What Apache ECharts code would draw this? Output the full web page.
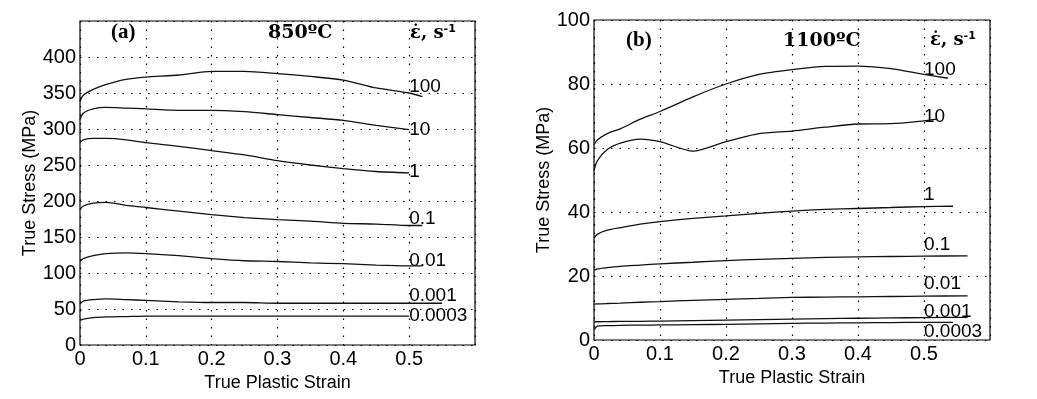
<!DOCTYPE html>
<html>
<head>
<meta charset="utf-8">
<script src="https://cdn.jsdelivr.net/npm/echarts@6/dist/echarts.min.js"></script>
<style>
html, body { margin: 0; background: #fff; }
#chart { width: 1037px; height: 399px; }
</style>
</head>
<body>
<div id="chart"></div>
<script>
var strain = [0, 0.005, 0.02, 0.04, 0.07, 0.1, 0.15, 0.2, 0.25, 0.3, 0.35, 0.4, 0.45, 0.5];
var rates = ['100', '10', '1', '0.1', '0.01', '0.001', '0.0003'];

// (a) 850 C
var a100 = [338, 347, 355, 362, 369, 372, 375, 380, 380, 377, 373, 368, 357, 350];
var a10 = [313, 322, 328, 330, 329, 328, 326, 326, 324, 320, 316, 312, 305, 299];
var a1 = [281, 285, 287, 287, 285, 281, 276, 270, 264, 256, 250, 245, 241, 239];
var a01 = [188, 193, 197, 198, 194, 191, 186, 181, 177, 174, 172, 169, 168, 166];
var a001 = [116, 120, 124, 127, 128, 127, 124, 120, 117, 116, 114, 113, 111, 110];
var a0001 = [57, 61, 63, 64, 63, 62, 60, 59, 59, 58, 58, 58, 58, 58];
var a00003 = [34, 36, 38, 39, 39.5, 40, 40, 40, 40, 40, 40, 40, 40, 40];
var aEndStrain = [0.52, 0.5, 0.5, 0.52, 0.52, 0.55, 0.5];
var aEndStress = [345, 299, 239, 166, 110, 58, 40];
var aLabelY = [358, 299, 240, 175, 117, 69, 40];

// (b) 1100 C
var b100 = [61, 62.5, 64.5, 66, 69, 71.4, 76, 80, 83, 84.5, 85.5, 85.6, 84.8, 83];
var b10 = [53, 56, 59.5, 61.5, 62.8, 62, 59, 62, 64.5, 65.3, 66.5, 67.5, 67.6, 68.5];
var b1 = [31.8, 33, 34.3, 35.1, 36.2, 37, 38, 38.8, 39.6, 40.3, 40.8, 41.1, 41.4, 41.7];
var b01 = [21.7, 22.2, 22.6, 23, 23.4, 23.8, 24.3, 24.8, 25.2, 25.5, 25.8, 26, 26.1, 26.2];
var b001 = [11.2, 11.3, 11.4, 11.5, 11.8, 12, 12.4, 12.7, 13, 13.3, 13.4, 13.5, 13.6, 13.7];
var b0001 = [5.7, 5.7, 5.75, 5.8, 5.85, 5.9, 6.05, 6.2, 6.35, 6.5, 6.65, 6.8, 6.9, 7.0];
var b00003 = [3.2, 4.3, 4.5, 4.6, 4.65, 4.7, 4.8, 4.9, 5.05, 5.2, 5.3, 5.35, 5.45, 5.5];
var bEndStrain = [0.536, 0.52, 0.544, 0.566, 0.566, 0.566, 0.544];
var bEndStress = [81.8, 69, 41.8, 26.3, 13.8, 7.1, 5.5];
var bLabelY = [84.6, 69.8, 45.3, 29.7, 17.7, 8.8, 2.6];

var labelStrain = 0.5;

var curvesA = [a100, a10, a1, a01, a001, a0001, a00003];
var curvesB = [b100, b10, b1, b01, b001, b0001, b00003];

var myChart = echarts.init(document.getElementById('chart'));

function buildLine(vals, endX, endY, idx) {
    var data = strain.map(function (s, i) { return [s, vals[i]]; });
    if (endX > strain[strain.length - 1]) data.push([endX, endY]);
    return {
        type: 'line',
        xAxisIndex: idx,
        yAxisIndex: idx,
        data: data,
        smooth: 0.25,
        symbol: 'none',
        silent: true,
        lineStyle: { color: '#111', width: 1.3 }
    };
}

function buildLabels(labelY, idx) {
    return {
        type: 'scatter',
        xAxisIndex: idx,
        yAxisIndex: idx,
        symbolSize: 0,
        silent: true,
        itemStyle: { color: '#000', opacity: 1 },
        data: rates.map(function (r, i) { return [labelStrain, labelY[i], r]; }),
        label: {
            show: true,
            position: 'right',
            distance: 0,
            color: '#000',
            fontFamily: 'Liberation Sans',
            fontSize: 19,
            formatter: function (p) { return p.data[2]; }
        }
    };
}

var series = [];
curvesA.forEach(function (c, i) { series.push(buildLine(c, aEndStrain[i], aEndStress[i], 0)); });
curvesB.forEach(function (c, i) { series.push(buildLine(c, bEndStrain[i], bEndStress[i], 1)); });
series.push(buildLabels(aLabelY, 0));
series.push(buildLabels(bLabelY, 1));

var dotted = { color: '#000', width: 1.2, type: [1.5, 7] };
var tickFont = { color: '#000', fontFamily: 'Liberation Sans', fontSize: 20 };
var nameFont = { color: '#000', fontFamily: 'Liberation Sans', fontSize: 18 };

function xAx(idx) {
    return {
        gridIndex: idx, type: 'value', min: 0, max: 0.6, interval: 0.1,
        name: 'True Plastic Strain', nameLocation: 'middle', nameGap: 28,
        nameTextStyle: nameFont,
        axisLine: { show: false }, axisTick: { show: false },
        splitLine: { show: true, lineStyle: dotted },
        axisLabel: Object.assign({ margin: 4, formatter: function (v) {
            return v > 0.55 ? '' : String(+v.toFixed(1));
        } }, tickFont)
    };
}

function yAx(idx, max, interval, hideTop) {
    return {
        gridIndex: idx, type: 'value', min: 0, max: max, interval: interval,
        name: 'True Stress (MPa)', nameLocation: 'middle', nameGap: idx === 0 ? 40 : 37,
        nameTextStyle: nameFont,
        axisLine: { show: false }, axisTick: { show: false },
        splitLine: { show: true, lineStyle: dotted },
        axisLabel: Object.assign({ margin: 4, formatter: function (v) {
            return (hideTop && v >= max) ? '' : String(v);
        } }, tickFont)
    };
}

var headSerif = 'bold 19px "DejaVu Serif"';
var headTimes = 'bold 21px "Liberation Serif"';

function headText(x, y, text, font) {
    return { type: 'text', x: x, y: y, silent: true,
        style: { text: text, font: font, fill: '#000', verticalAlign: 'middle' } };
}

function rateHead(x, y) {
    return { type: 'text', x: x, y: y, silent: true,
        style: {
            text: '{a|\u03b5\u0307, s}{b|-1}',
            verticalAlign: 'middle',
            rich: {
                a: { font: 'bold 18px "DejaVu Serif"', fill: '#000' },
                b: { font: 'bold 11px "DejaVu Sans"', fill: '#000', verticalAlign: 'top', padding: [0, 0, 8, 0] }
            }
        } };
}

myChart.setOption({
    animation: false,
    backgroundColor: '#fff',
    grid: [
        { left: 80, top: 21, width: 395, height: 324, show: true, borderColor: '#000', borderWidth: 1.2 },
        { left: 594, top: 20, width: 396, height: 320, show: true, borderColor: '#000', borderWidth: 1.2 }
    ],
    xAxis: [xAx(0), xAx(1)],
    yAxis: [yAx(0, 450, 50, true), yAx(1, 100, 20, false)],
    graphic: [
        headText(111, 33, '(a)', headTimes),
        headText(268, 33, '850\u00baC', headSerif),
        rateHead(410, 33),
        headText(626, 41, '(b)', headTimes),
        headText(783, 41, '1100\u00baC', headSerif),
        rateHead(930, 40)
    ],
    series: series
});

window.addEventListener('resize', function () {
    myChart.resize();
});
</script>
</body>
</html>
